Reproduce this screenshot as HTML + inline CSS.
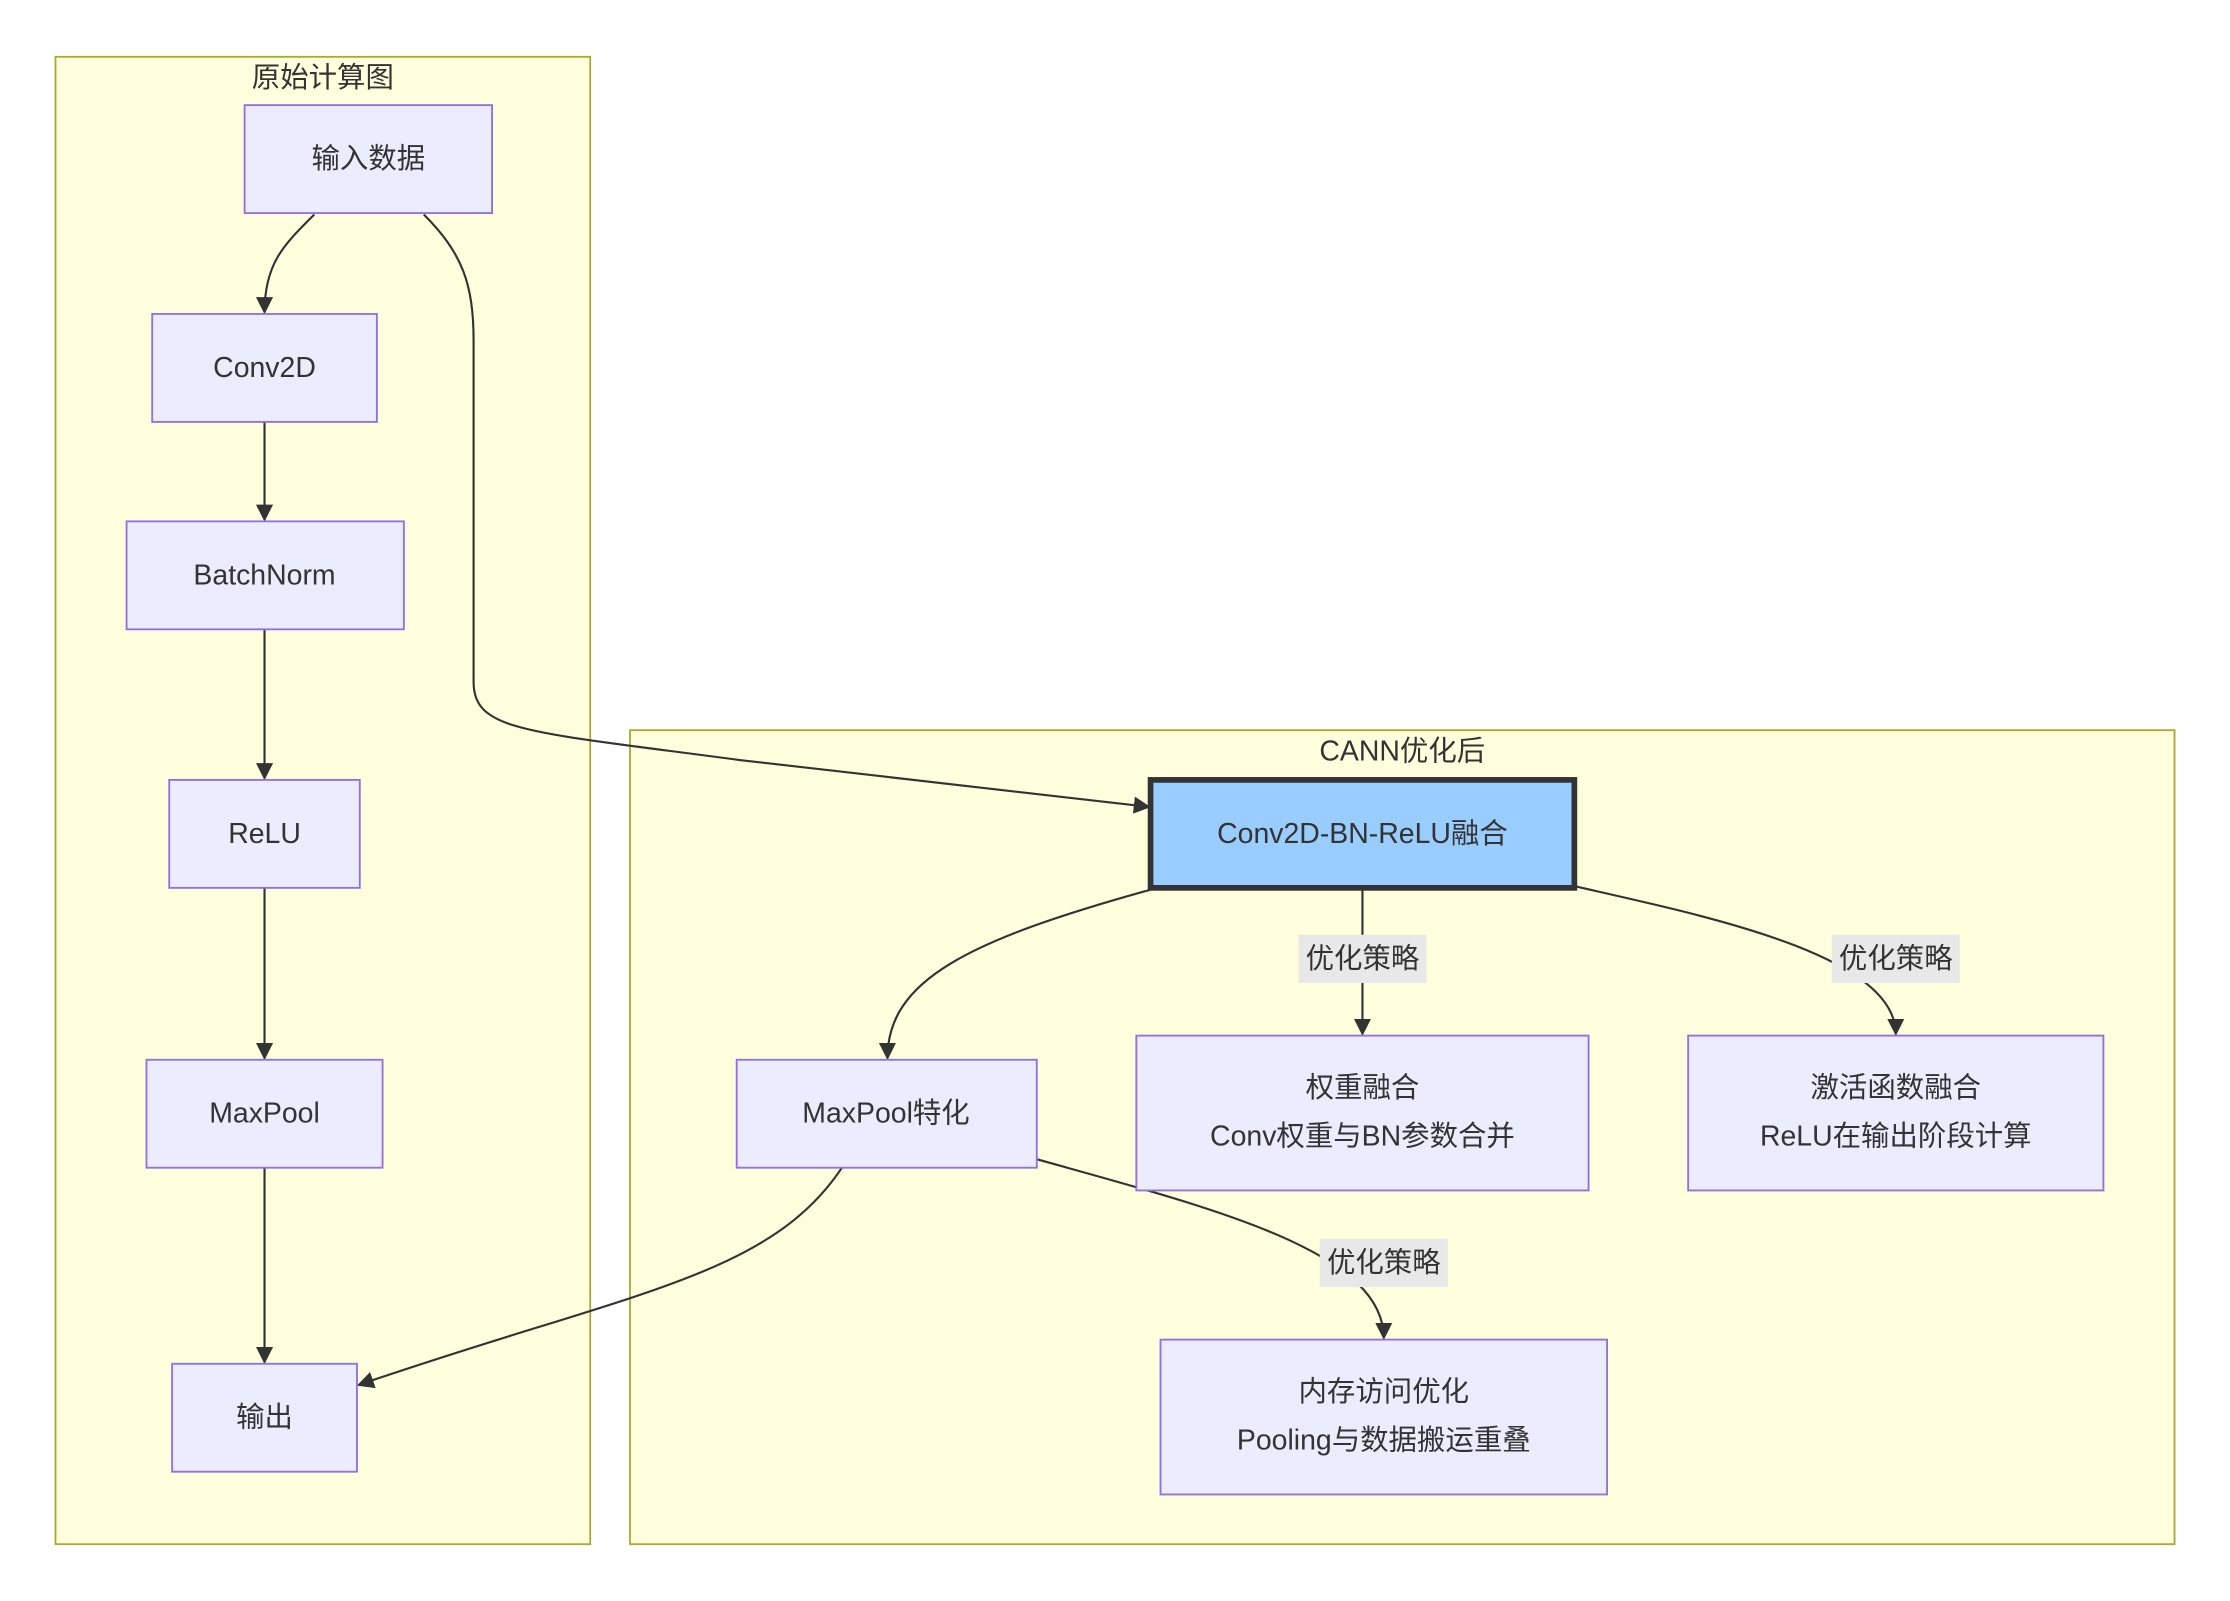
<!DOCTYPE html>
<html><head><meta charset="utf-8"><style>
html,body{margin:0;padding:0;background:#fff;}
svg{display:block}
text{font-family:"Liberation Sans","Noto Sans CJK SC",sans-serif;fill:#333;font-size:20px;text-anchor:middle;dominant-baseline:central}
.n{fill:#ECECFF;stroke:#9370DB;stroke-width:1.3}
.c{fill:#FFFFDE;stroke:#AAAA33;stroke-width:1.3}
.e{fill:none;stroke:#333;stroke-width:1.5}
.l{fill:#e8e8e8}
</style></head><body>
<svg width="2230" height="1601" viewBox="0 0 1568 1127" preserveAspectRatio="none">
<defs><marker id="a" viewBox="0 0 10 10" refX="9" refY="5" markerWidth="8" markerHeight="8" orient="auto-start-reverse"><path d="M0,0L10,5L0,10z" fill="#333"/></marker></defs>
<rect class="c" x="39" y="40" width="376" height="1047"/>
<text x="227" y="55">原始计算图</text>
<rect class="c" x="443" y="514" width="1086" height="573"/>
<text x="986" y="529">CANN优化后</text>

<path class="e" d="M221,151 C200,172 186,185 186,220" marker-end="url(#a)"/>
<path class="e" d="M186,297 V366" marker-end="url(#a)"/>
<path class="e" d="M186,443 V548" marker-end="url(#a)"/>
<path class="e" d="M186,625 V745" marker-end="url(#a)"/>
<path class="e" d="M186,822 V959" marker-end="url(#a)"/>
<path class="e" d="M298,151 C325,178 333,200 333,240 V480 C333,515 370,515 520,535 L808,568" marker-end="url(#a)"/>
<path class="e" d="M810,626 C680,662 624,690 624,745" marker-end="url(#a)"/>
<path class="e" d="M958,626 V728" marker-end="url(#a)"/>
<path class="e" d="M1108,624 C1200,645 1333,672 1333,728" marker-end="url(#a)"/>
<path class="e" d="M592,822 C540,900 440,910 252,975" marker-end="url(#a)"/>
<path class="e" d="M729,816 C850,850 973,880 973,942" marker-end="url(#a)"/>

<rect class="l" x="913" y="658" width="90" height="34"/><text x="958" y="675">优化策略</text>
<rect class="l" x="1288" y="658" width="90" height="34"/><text x="1333" y="675">优化策略</text>
<rect class="l" x="928" y="872" width="90" height="34"/><text x="973" y="889">优化策略</text>

<rect class="n" x="172" y="74" width="174" height="76"/><text x="259" y="112">输入数据</text>
<rect class="n" x="107" y="221" width="158" height="76"/><text x="186" y="259">Conv2D</text>
<rect class="n" x="89" y="367" width="195" height="76"/><text x="186" y="405">BatchNorm</text>
<rect class="n" x="119" y="549" width="134" height="76"/><text x="186" y="587">ReLU</text>
<rect class="n" x="103" y="746" width="166" height="76"/><text x="186" y="784">MaxPool</text>
<rect class="n" x="121" y="960" width="130" height="76"/><text x="186" y="998">输出</text>

<rect x="809" y="549" width="298" height="76" fill="#99CCFF" stroke="#333" stroke-width="4"/><text x="958" y="587">Conv2D-BN-ReLU融合</text>
<rect class="n" x="518" y="746" width="211" height="76"/><text x="623" y="784">MaxPool特化</text>
<rect class="n" x="799" y="729" width="318" height="109"/><text x="958" y="766">权重融合</text><text x="958" y="800">Conv权重与BN参数合并</text>
<rect class="n" x="1187" y="729" width="292" height="109"/><text x="1333" y="766">激活函数融合</text><text x="1333" y="800">ReLU在输出阶段计算</text>
<rect class="n" x="816" y="943" width="314" height="109"/><text x="973" y="980">内存访问优化</text><text x="973" y="1014">Pooling与数据搬运重叠</text>
</svg>
</body></html>
